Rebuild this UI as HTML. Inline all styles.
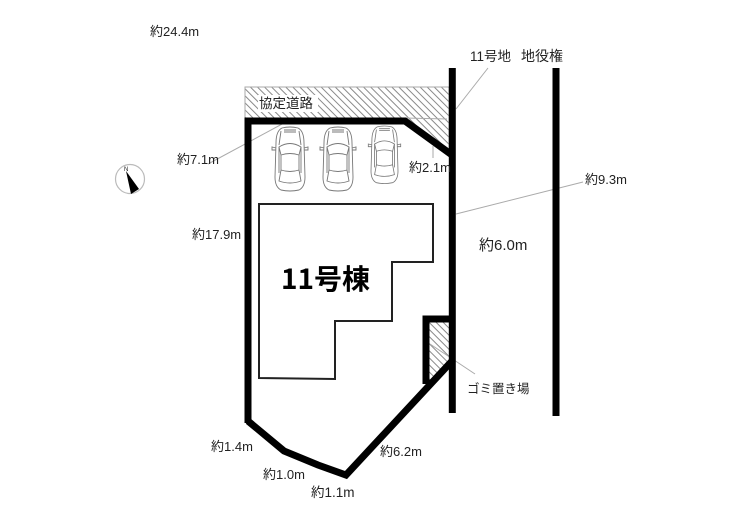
<!DOCTYPE html>
<html><head><meta charset="utf-8"><style>
html,body{margin:0;padding:0;background:#fff}
svg{display:block}
text{font-family:"Liberation Sans","Noto Sans CJK JP",sans-serif;fill:#222;font-size:13px}
</style></head><body>
<svg width="740" height="523" viewBox="0 0 740 523" xmlns="http://www.w3.org/2000/svg">
<defs>
<pattern id="h" width="5" height="5" patternUnits="userSpaceOnUse" patternTransform="rotate(-45)">
<rect width="5" height="5" fill="#fff"/><rect x="0" width="1" height="5" fill="#8a8a8a"/>
</pattern>
<g id="car" fill="#fff" stroke="#777" stroke-width="0.9">
<path d="M7 1 Q15 -1 23 1 Q29 4 29 16 L30 50 Q30 60 24 63 Q15 65 6 63 Q0 60 0 50 L1 16 Q1 4 7 1Z"/>
<path d="M4 20 Q15 13 26 20 L24 28 Q15 25 6 28Z" fill="none"/>
<path d="M6 28 L6 44 M24 28 L24 44 M4 20 L4 46 M26 20 L26 46 M6 43 Q15 46 24 43 L26 54 Q15 58 4 54Z" fill="none"/>
<path d="M6 4 L4 18 M24 4 L26 18 M9 3 L21 3 M9 5 L21 5" fill="none"/>
<path d="M1 21 L-3 20 L-3 23 L1 23 M29 21 L33 20 L33 23 L29 23" fill="none"/>
</g>
</defs>

<polygon points="245,87 449,87 449,153 405,121 245,121" fill="url(#h)" stroke="#aaa" stroke-width="1"/>
<rect x="258" y="95" width="60" height="17" fill="#fff"/>
<polygon points="429,322 449,322 449,361 429,381" fill="url(#h)"/>

<g fill="none" stroke="#aaa" stroke-width="1">
<line x1="456" y1="109" x2="488" y2="68"/>
<line x1="405" y1="118" x2="447" y2="119"/>
<line x1="208" y1="164" x2="284" y2="123"/>
<line x1="433" y1="146" x2="433" y2="158"/>
<line x1="456" y1="214" x2="583" y2="182"/>
<line x1="430" y1="344" x2="475" y2="374"/>
</g>

<g transform="translate(275,127)"><use href="#car"/></g>
<g transform="translate(323,127)"><use href="#car"/></g>
<g transform="translate(371,126) scale(0.9,0.9)"><use href="#car"/></g>

<g fill="none" stroke="#000" stroke-width="7" stroke-linejoin="miter">
<path d="M452.3 68 V413"/>
<path d="M556 68 V416"/>
<path d="M248 423 V121 H405 L452 155"/>
<path d="M248 421 L284 451 L318 465 L346 475 L452 361"/>
<path d="M426 384 V319 H452"/>
</g>

<path d="M259 204 H433 V262 H392 V321 H335 V379 L259 378Z" fill="none" stroke="#222" stroke-width="2"/>

<circle cx="130" cy="179" r="14.5" fill="#fff" stroke="#bbb" stroke-width="1.2"/>
<polygon points="126,171 131,194 139,189" fill="#000"/>
<text x="124" y="171" style="font-size:6px">N</text>

<text x="150" y="36">約24.4m</text>
<text x="470" y="61" style="font-size:13.5px">11号地</text>
<text x="521" y="61" style="font-size:14px">地役権</text>
<text x="259" y="108" style="font-size:13.5px">協定道路</text>
<text x="177" y="164">約7.1m</text>
<text x="409" y="172">約2.1m</text>
<text x="585" y="184">約9.3m</text>
<text x="192" y="239">約17.9m</text>
<text x="479" y="250" style="font-size:15px">約6.0m</text>
<text x="281" y="289" style="font-family:'Noto Sans CJK JP',sans-serif;font-size:28px;font-weight:bold;fill:#000">11号棟</text>
<text x="467" y="393" style="font-size:12.5px">ゴミ置き場</text>
<text x="211" y="451">約1.4m</text>
<text x="380" y="456">約6.2m</text>
<text x="263" y="479">約1.0m</text>
<text x="311" y="497" style="font-size:13.5px">約1.1m</text>
</svg>
</body></html>
